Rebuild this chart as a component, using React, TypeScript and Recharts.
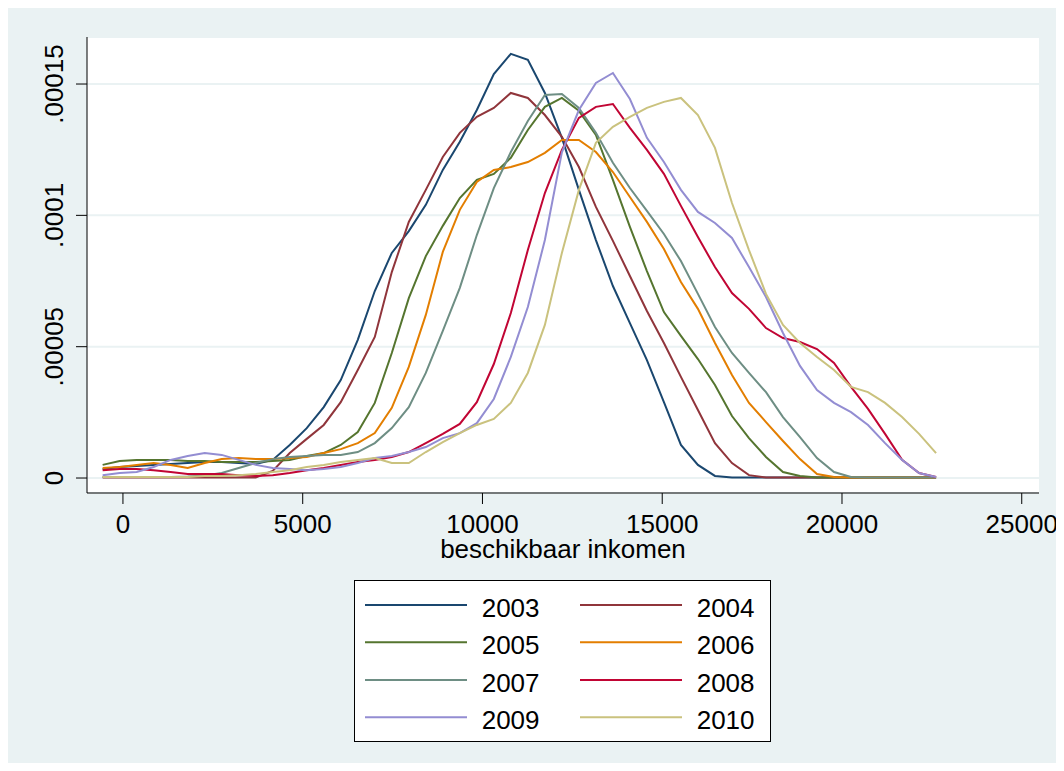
import React from 'react';
import { LineChart, Line, XAxis, YAxis, CartesianGrid } from 'recharts';

// Evaluation points of the kernel density (beschikbaar inkomen)
const incomeGrid = [
  -565, -92, 381, 854, 1327, 1801, 2274, 2747, 3220, 3693,
  4166, 4639, 5112, 5585, 6058, 6532, 7005, 7478, 7951, 8424,
  8897, 9370, 9843, 10316, 10789, 11262, 11736, 12209, 12682, 13155,
  13628, 14101, 14574, 15047, 15520, 15993, 16467, 16940, 17413, 17886,
  18359, 18832, 19305, 19778, 20251, 20724, 21198, 21671, 22144, 22617,
];

// Density values, expressed per 100,000 (multiply by 1e-5)
const density2003 = [
  0.34, 0.42, 0.46, 0.50, 0.53, 0.57, 0.61, 0.61, 0.57, 0.53,
  0.69, 1.26, 1.90, 2.70, 3.73, 5.26, 7.12, 8.57, 9.40, 10.40,
  11.73, 12.80, 14.01, 15.38, 16.15, 15.92, 14.66, 12.95, 10.97, 9.06,
  7.31, 5.90, 4.49, 2.89, 1.26, 0.50, 0.08, 0.02, 0.02, 0.02,
  0.02, 0.02, 0.02, 0.02, 0.02, 0.02, 0.02, 0.02, 0.02, 0.02,
];
const density2004 = [
  0.02, 0.02, 0.02, 0.02, 0.02, 0.02, 0.02, 0.02, 0.02, 0.02,
  0.27, 0.95, 1.49, 2.02, 2.89, 4.11, 5.37, 7.84, 9.75, 10.97,
  12.22, 13.14, 13.75, 14.09, 14.66, 14.47, 13.82, 12.99, 11.84, 10.32,
  9.03, 7.69, 6.36, 5.14, 3.85, 2.59, 1.33, 0.57, 0.11, 0.02,
  0.02, 0.02, 0.02, 0.02, 0.02, 0.02, 0.02, 0.02, 0.02, 0.02,
];
const density2005 = [
  0.50, 0.65, 0.69, 0.69, 0.69, 0.65, 0.65, 0.61, 0.61, 0.61,
  0.65, 0.69, 0.84, 0.95, 1.26, 1.75, 2.86, 4.76, 6.85, 8.45,
  9.60, 10.66, 11.35, 11.58, 12.19, 13.25, 14.13, 14.47, 13.98, 13.06,
  11.35, 9.56, 7.88, 6.32, 5.41, 4.53, 3.54, 2.36, 1.52, 0.80,
  0.23, 0.08, 0.02, 0.02, 0.02, 0.02, 0.02, 0.02, 0.02, 0.02,
];
const density2006 = [
  0.38, 0.42, 0.50, 0.57, 0.50, 0.38, 0.57, 0.72, 0.76, 0.72,
  0.72, 0.76, 0.80, 0.95, 1.10, 1.33, 1.71, 2.67, 4.23, 6.21,
  8.61, 10.21, 11.27, 11.73, 11.84, 12.03, 12.38, 12.87, 12.87, 12.41,
  11.65, 10.70, 9.75, 8.72, 7.46, 6.44, 5.14, 3.92, 2.86, 2.13,
  1.41, 0.72, 0.15, 0.04, 0.02, 0.02, 0.02, 0.02, 0.02, 0.02,
];
const density2007 = [
  0.04, 0.04, 0.04, 0.04, 0.04, 0.06, 0.10, 0.19, 0.38, 0.57,
  0.72, 0.80, 0.84, 0.88, 0.88, 0.99, 1.33, 1.90, 2.70, 4.00,
  5.60, 7.24, 9.25, 11.04, 12.41, 13.59, 14.58, 14.62, 14.09, 13.14,
  12.00, 11.04, 10.17, 9.29, 8.26, 7.01, 5.75, 4.76, 4.00, 3.27,
  2.32, 1.56, 0.76, 0.23, 0.04, 0.02, 0.02, 0.02, 0.02, 0.02,
];
const density2008 = [
  0.30, 0.34, 0.34, 0.30, 0.23, 0.15, 0.15, 0.15, 0.11, 0.08,
  0.11, 0.19, 0.30, 0.38, 0.50, 0.61, 0.69, 0.80, 0.99, 1.33,
  1.68, 2.06, 2.89, 4.34, 6.28, 8.68, 10.85, 12.49, 13.71, 14.13,
  14.24, 13.33, 12.49, 11.58, 10.36, 9.18, 8.03, 7.04, 6.44, 5.71,
  5.33, 5.18, 4.91, 4.38, 3.47, 2.63, 1.68, 0.69, 0.19, 0.04,
];
const density2009 = [
  0.11, 0.19, 0.23, 0.42, 0.69, 0.84, 0.95, 0.88, 0.69, 0.50,
  0.38, 0.34, 0.30, 0.34, 0.42, 0.57, 0.76, 0.84, 0.99, 1.18,
  1.52, 1.71, 2.09, 3.01, 4.61, 6.51, 9.06, 12.40, 14.01, 15.04,
  15.42, 14.43, 12.95, 12.03, 10.97, 10.13, 9.71, 9.14, 8.03, 6.89,
  5.52, 4.27, 3.35, 2.86, 2.51, 2.02, 1.33, 0.69, 0.19, 0.04,
];
const density2010 = [
  0.04, 0.04, 0.04, 0.04, 0.04, 0.04, 0.08, 0.08, 0.11, 0.15,
  0.23, 0.30, 0.42, 0.50, 0.61, 0.69, 0.76, 0.57, 0.57, 0.99,
  1.37, 1.71, 2.02, 2.25, 2.86, 4.00, 5.83, 8.57, 10.97, 12.76,
  13.37, 13.75, 14.09, 14.32, 14.47, 13.82, 12.57, 10.47, 8.68, 7.01,
  5.83, 5.14, 4.61, 4.11, 3.47, 3.27, 2.86, 2.32, 1.68, 0.95,
];

const years = ['2003', '2004', '2005', '2006', '2007', '2008', '2009', '2010'];
const seriesColors = ['#1a476f', '#90353b', '#55752f', '#e37e00', '#6e8e84', '#c10534', '#938dd2', '#cac27e'];
const seriesValues = [density2003, density2004, density2005, density2006, density2007, density2008, density2009, density2010];

const xTicks = [0, 5000, 10000, 15000, 20000, 25000];
const yTicks = [0, 0.00005, 0.0001, 0.00015];
const xTitle = 'beschikbaar inkomen';

const DENSITY_UNIT = 1e-5;
const tableRows = incomeGrid.map((x, i) => {
  const row: Record<string, number> = { x };
  years.forEach((yr, k) => {
    row['y' + yr] = seriesValues[k][i] * DENSITY_UNIT;
  });
  return row;
});

const FONT = '"Liberation Sans", Arial, Helvetica, sans-serif';
const BG = '#eaf2f3';

const fmtY = (v: number) => (v === 0 ? '0' : String(v).replace(/^0/, ''));

const XTick = (props: any) => {
  const { x, y, payload } = props;
  return (
    <text x={x} y={y + 29} textAnchor="middle" fontSize={26} fill="#000" fontFamily={FONT}>
      {payload.value}
    </text>
  );
};

const YTick = (props: any) => {
  const { x, y, payload } = props;
  return (
    <text
      transform={`translate(${x - 13},${y}) rotate(-90)`}
      textAnchor="middle"
      fontSize={26}
      fill="#000"
      fontFamily={FONT}
    >
      {fmtY(payload.value)}
    </text>
  );
};

const LegendBox = () => {
  const rowY = [25, 62.3, 100, 137.3];
  const colLine = [11, 226];
  const colText = [127.7, 342.7];
  return (
    <svg
      width={417}
      height={162}
      style={{ position: 'absolute', left: 346, top: 572 }}
    >
      <rect x={0.5} y={0.5} width={416} height={161} fill="#fff" stroke="#000" strokeWidth={1} />
      {years.map((yr, k) => {
        const r = Math.floor(k / 2);
        const c = k % 2;
        return (
          <g key={yr}>
            <line x1={colLine[c]} x2={colLine[c] + 102} y1={rowY[r]} y2={rowY[r]} stroke={seriesColors[k]} strokeWidth={2} />
            <text x={colText[c]} y={rowY[r] + 12} fontSize={26} fill="#000" fontFamily={FONT}>
              {yr}
            </text>
          </g>
        );
      })}
    </svg>
  );
};

export default function App() {
  return (
    <div style={{ position: 'relative', width: 1048, height: 755, background: BG }}>
      <LineChart
        width={1048}
        height={755}
        data={tableRows}
        margin={{ top: 29, right: 17, bottom: 226, left: 0 }}
      >
        <CartesianGrid vertical={false} horizontal stroke={BG} strokeWidth={2} fill="#ffffff" fillOpacity={1} />
        <XAxis
          type="number"
          dataKey="x"
          domain={[-1000, 25480]}
          allowDataOverflow
          ticks={xTicks}
          interval={0}
          height={44}
          tickSize={11}
          tickMargin={0}
          tick={<XTick />}
          axisLine={{ stroke: '#000', strokeWidth: 1 }}
          tickLine={{ stroke: '#000', strokeWidth: 1 }}
          label={{ value: xTitle, position: 'bottom', offset: 3, fontSize: 26, fill: '#000', fontFamily: FONT }}
        />
        <YAxis
          type="number"
          domain={[-0.0000057, 0.0001679]}
          allowDataOverflow
          ticks={yTicks}
          interval={0}
          width={79}
          tickSize={11}
          tickMargin={0}
          tick={<YTick />}
          axisLine={{ stroke: '#000', strokeWidth: 1 }}
          tickLine={{ stroke: '#000', strokeWidth: 1 }}
        />
        {years.map((yr, k) => (
          <Line
            key={yr}
            type="linear"
            dataKey={'y' + yr}
            name={yr}
            stroke={seriesColors[k]}
            strokeWidth={2}
            dot={false}
            activeDot={false}
            isAnimationActive={false}
          />
        ))}
      </LineChart>
      <LegendBox />
    </div>
  );
}
